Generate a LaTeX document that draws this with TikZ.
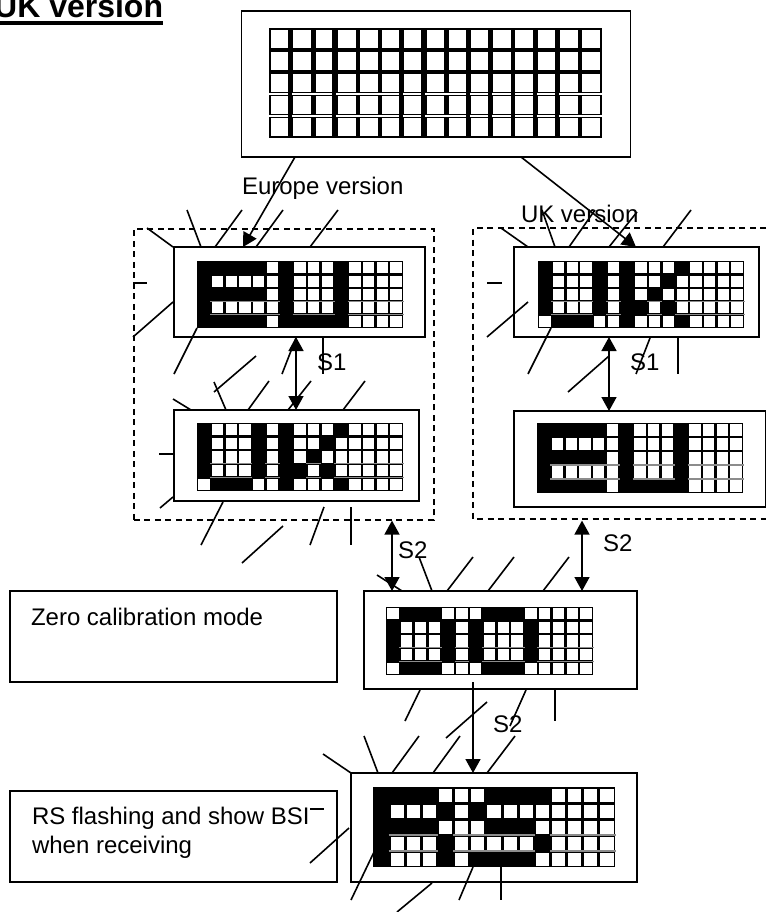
\documentclass[tikz,border=0pt]{standalone}
\usepackage{fontspec}
\setmainfont{Liberation Sans}
\usetikzlibrary{arrows.meta,calc}
\newcount\lcdc
\def\lcdwhite{%
  \fill[white] (\lcdxo+\the\lcdc*\lcdw+\lcdin,\lcdyo+\ri*\lcdh+\lcdin)
     rectangle (\lcdxo+\the\lcdc*\lcdw+\lcdw-\lcdin,\lcdyo+\ri*\lcdh+\lcdh-\lcdin);
  \ifnum\ri=3
    \draw[line width=1.1pt,\lcdsep] (\lcdxo+\the\lcdc*\lcdw-0.5,\lcdyo+\ri*\lcdh) -- ++(\lcdw+1,0);
    \draw[line width=1.1pt,\lcdsep] (\lcdxo+\the\lcdc*\lcdw-0.5,\lcdyo+\ri*\lcdh+\lcdh) -- ++(\lcdw+1,0);
  \fi}
\def\lcdparse#1#2\relax{%
  \ifx#10 \lcdwhite\fi
  \global\advance\lcdc by 1
  \ifx\relax#2\relax\else\lcdparse#2\relax\fi}
\newcommand\lcdgrid[7]{%
  \fill[black] (#1,#2) rectangle (#3,#4);
  \pgfmathsetmacro\lcdw{(#3-#1)/15}%
  \pgfmathsetmacro\lcdh{(#4-#2)/5}%
  \def\lcdxo{#1}\def\lcdyo{#2}\def\lcdin{#5}\def\lcdsep{#6}%
  \foreach \rowstr [count=\ri from 0] in {#7}{%
    \global\lcdc=0
    \expandafter\lcdparse\rowstr\relax
  }}
\tikzset{
  box/.style={draw=black,fill=white,line width=1.8pt,rectangle,inner sep=0pt,outer sep=0pt,anchor=north west},
  dashbox/.style={draw=black,line width=1.6pt,dash pattern=on 6pt off 4.5pt},
  tick/.style={draw=black,line width=1.6pt},
  arr/.style={draw=black,line width=1.6pt,-{Triangle[width=15pt,length=14pt]}},
  dbl/.style={draw=black,line width=1.6pt,{Triangle[width=15pt,length=14pt]}-{Triangle[width=15pt,length=14pt]}},
  lab/.style={anchor=base west,inner sep=0pt,outer sep=0pt,font=\fontsize{24}{29}\selectfont},
}
\begin{document}
\begin{tikzpicture}[x=1pt,y=-1pt]
\useasboundingbox (0,0) rectangle (766,912);
\fill[white] (0,0) rectangle (766,912);
% dashed groups
\node[dashbox,rectangle,inner sep=0pt,anchor=north west,minimum width=300pt,minimum height=291pt] (grpl) at (133,228) {};
\draw[dashbox] (766,228) -- (473,228) -- (473,519) -- (766,519);
% boxes
\node[box,minimum width=389pt,minimum height=146pt] (top) at (241.5,11) {};
\node[box,minimum width=251pt,minimum height=90pt] (eu) at (174,247) {};
\node[box,minimum width=245pt,minimum height=91pt] (ukl) at (174,410) {};
\node[box,minimum width=245pt,minimum height=90pt] (ukr) at (514,247) {};
\node[box,minimum width=251.5pt,minimum height=96pt] (eur) at (514,411) {};
\node[box,minimum width=273pt,minimum height=98pt] (zero) at (364,591) {};
\node[box,minimum width=286pt,minimum height=109pt] (rs) at (351,773) {};
\node[box,line width=1.5pt,minimum width=327pt,minimum height=91pt] (zerotxt) at (10,591) {};
\node[box,line width=1.5pt,minimum width=327pt,minimum height=91pt] (rstxt) at (10,791) {};
% LCD patterns
\lcdgrid{269}{28}{602}{138}{2.2}{white}{000000000000000,000000000000000,000000000000000,000000000000000,000000000000000}
\foreach \vx in {290,334,401,423,468,490,513,535,557}{
  \draw[black,line width=3.5pt] (\vx,29) -- (\vx,137);
}
\foreach \hy in {50,72}{
  \draw[black,line width=3.5pt] (270,\hy) -- (601,\hy);
}
\lcdgrid{197}{261}{403}{328}{1.2}{black!45}{111110100010000,100000100010000,111110100010000,100000100010000,111110111110000}
\lcdgrid{197}{423}{403}{491}{1.2}{black!45}{100010100010000,100010100100000,100010101000000,100010110100000,011100100010000}
\lcdgrid{538}{261}{744}{328}{1.2}{black!45}{100010100010000,100010100100000,100010101000000,100010110100000,011100100010000}
\lcdgrid{537}{423}{743}{493}{1.2}{black!45}{111110100010000,100000100010000,111110100010000,100000100010000,111110111110000}
\lcdgrid{386}{607}{593}{675}{1.2}{black!45}{011100011100000,100010100010000,100010100010000,100010100010000,011100011100000}
\lcdgrid{373}{787}{615}{867}{1.5}{black!45}{111100011110000,100010100000000,111100011100000,100010000010000,100010111100000}
% stray segment ticks
\foreach \xa/\ya/\xb/\yb in {
  147/228/173/247, 187/210/201/247, 242/210/215/247, 283/210/256/247, 338/210/310/247,
  133/283/147/283, 173/302/133/337, 197/328/174/374, 296/338/282/374, 323/338/323/374,
  256/356/214/392, 214/382/226/410, 269/381/248/410, 311/381/288/410, 365/381/343/410,
  173/399/191/410, 159/454/173/454, 173/497/160/508, 223/502/201/545, 283/526/242/563,
  324/507/310/545, 351/507/351/545,
  501/228/528/247, 542/210/555/247, 595/210/569/247, 637/212/609/247, 691/210/663/247,
  487/283/502/283, 528/302/487/337, 551/328/528/374, 609/356/568/392, 650/338/636/374,
  678/338/678/374,
  473/557/447/591, 514/557/488/591, 569/557/543/591, 419/557/432/591, 377/575/402/591,
  420/690/405/721, 487/702/446/738, 526/690/510/726, 555/690/555/721,
  323/754/351/773, 364/736/378/773, 419/736/392/773, 460/736/433/773, 515/736/487/773,
  349/828/310/863, 374/852/351/900, 432/883/397/912, 473/867/459/900, 501/867/501/900,
  310/809/324/809}{
  \draw[tick] (\xa,\ya) -- (\xb,\yb);
}
% connector anchors
\coordinate (a1) at (295,0);
\coordinate (a2) at (243,0);
\coordinate (b1) at (521,0);
\coordinate (b2) at (636,0);
\coordinate (c1) at (296,0);
\coordinate (c2) at (609,0);
\coordinate (d1) at (392,0);
\coordinate (d2) at (582,0);
\coordinate (e0) at (473,682);
% connectors
\draw[arr] (top.south -| a1) -- (eu.north -| a2);
\draw[arr] (top.south -| b1) -- (ukr.north -| b2);
\draw[dbl] (eu.south -| c1) -- (ukl.north -| c1);
\draw[dbl] (ukr.south -| c2) -- (eur.north -| c2);
\draw[dbl] (grpl.south -| d1) -- (zero.north -| d1);
\draw[dbl] (grpl.south -| d2) -- (zero.north -| d2);
\draw[arr] (e0) -- (rs.north -| e0);
% texts
\node[anchor=base west,inner sep=0pt,font=\fontsize{32}{38}\selectfont\bfseries] (title) at (-6,18) {UK version};
\fill[black] (0,21) rectangle (163,25);
\node[lab] (leu) at (242,194) {Europe version};
\node[lab] (luk) at (521,222) {UK version};
\node[lab] (s1a) at (317,370) {S1};
\node[lab] (s1b) at (630,370) {S1};
\node[lab] (s2a) at (398,558) {S2};
\node[lab] (s2b) at (603,551) {S2};
\node[lab] (s2c) at (493,732) {S2};
\node[lab] (tz) at (31,625) {Zero calibration mode};
\node[lab] (tr1) at (32,824) {RS flashing and show BSI};
\node[lab] (tr2) at (32,853) {when receiving};
\end{tikzpicture}
\end{document}
